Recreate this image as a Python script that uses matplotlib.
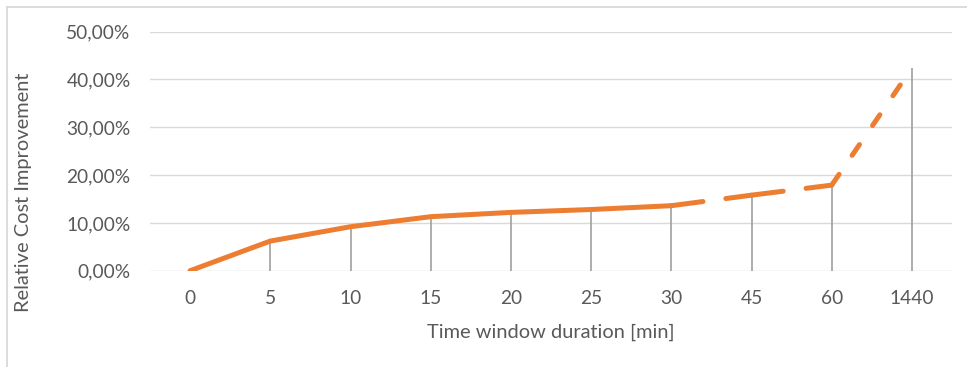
import matplotlib.pyplot as plt
from matplotlib.lines import Line2D

# dados
categorias = ['0', '5', '10', '15', '20', '25', '30', '45', '60', '1440']
melhoria = [0.0, 0.062, 0.092, 0.113, 0.122, 0.128, 0.136, 0.158, 0.179, 0.424]
y_ticks = [0.0, 0.1, 0.2, 0.3, 0.4, 0.5]
y_labels = ['0,00%', '10,00%', '20,00%', '30,00%', '40,00%', '50,00%']

laranja = '#ED7D31'
cinza_txt = '#595959'
plt.rcParams['font.family'] = ['Lato', 'DejaVu Sans']

fig = plt.figure(figsize=(9.67, 3.67), dpi=100)
ax = fig.add_axes([150 / 967, 1 - 270.7 / 367, 802 / 967, 239 / 367])

x = list(range(len(categorias)))

# linhas verticais (drop lines)
ax.vlines(x, 0, melhoria, colors='#a0a0a0', linewidth=1.2, zorder=2)

# parte contínua
ax.plot(x[:7], melhoria[:7], color=laranja, linewidth=3.6,
        solid_capstyle='round', solid_joinstyle='round', zorder=3)
# parte tracejada (traço longo)
for i in (6, 7):
    ax.plot(x[i:i + 2], melhoria[i:i + 2], color=laranja, linewidth=3.6,
            dash_capstyle='round', zorder=3, linestyle=(0, (23 / 3.6, 16.6 / 3.6)))
# último segmento (traço curto)
ax.plot(x[8:10], melhoria[8:10], color=laranja, linewidth=3.6,
        dash_capstyle='round', zorder=3, linestyle=(0, (9.4 / 3.6, 16.6 / 3.6)))

ax.set_xlim(-0.5, len(categorias) - 0.5)
ax.set_ylim(0, 0.5)
ax.set_xticks(x)
ax.set_xticklabels(categorias)
ax.set_yticks(y_ticks)
ax.set_yticklabels(y_labels)
ax.tick_params(length=0, labelsize=13.8, labelcolor=cinza_txt)
ax.tick_params(axis='y', pad=14)
ax.tick_params(axis='x', pad=14)
ax.grid(axis='y', color='#d9d9d9', linewidth=1.0, zorder=0)
ax.set_axisbelow(True)
for s in ax.spines.values():
    s.set_visible(False)

fig.text(551 / 967, 1 - 332 / 367, 'Time window duration [min]', ha='center', va='center',
         fontsize=14.4, color=cinza_txt)
fig.text(24 / 967, 1 - 192 / 367, 'Relative Cost Improvement', ha='center', va='center',
         rotation=90, fontsize=14.4, color=cinza_txt)

# borda do gráfico
fig.add_artist(Line2D([7 / 967, 1.0], [1 - 7 / 367, 1 - 7 / 367], transform=fig.transFigure,
                      color='#d9d9d9', linewidth=1.3))
fig.add_artist(Line2D([7 / 967, 7 / 967], [0, 1 - 7 / 367], transform=fig.transFigure,
                      color='#d9d9d9', linewidth=1.3))

fig.savefig('out.png', dpi=100)
